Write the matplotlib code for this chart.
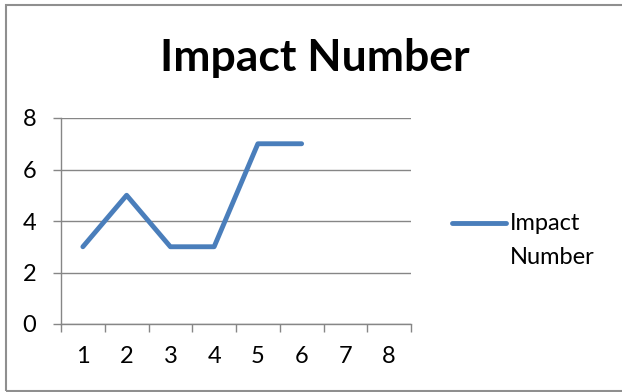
import matplotlib
matplotlib.use("Agg")
import matplotlib.pyplot as plt
from matplotlib.patches import Rectangle
from matplotlib.lines import Line2D

plt.rcParams['font.family'] = ['Lato', 'DejaVu Sans']

categories = [1, 2, 3, 4, 5, 6, 7, 8]
impact_values = [3, 5, 3, 3, 7, 7]
y_ticks = [0, 2, 4, 6, 8]
series_name = "Impact Number"

line_color = "#4A7EBB"
grid_color = "#868686"
label_size = 17
line_width = 3.5

fig = plt.figure(figsize=(6.22, 3.92), dpi=100)
fig.patch.set_facecolor("white")

# outer chart border (right edge runs off the canvas)
fig.add_artist(Rectangle((6/622, 1.5/392), 630/622, 385.5/392, transform=fig.transFigure,
                         fill=False, edgecolor="#8F8F8F", linewidth=1.5))

ax = fig.add_axes([61/622, 1 - 324/392, 350/622, 206/392])

n = len(categories)
xs = [i + 0.5 for i in range(len(impact_values))]
ax.plot(xs, impact_values, color=line_color, linewidth=line_width, solid_capstyle="round",
        solid_joinstyle="round")

ax.set_xlim(0, n)
ax.set_ylim(0, 8)

ax.set_yticks(y_ticks)
ax.set_yticklabels([str(v) for v in y_ticks])
ax.yaxis.grid(True, color=grid_color, linewidth=1.0)
ax.set_axisbelow(True)

ax.set_xticks(range(n + 1))
ax.set_xticklabels([])
ax.set_xticks([i + 0.5 for i in range(n)], minor=True)
ax.set_xticklabels([str(c) for c in categories], minor=True)
ax.tick_params(axis="x", which="major", length=5.5, color=grid_color, width=1.0, direction="out")
ax.tick_params(axis="x", which="minor", length=0, pad=16, labelsize=label_size)
ax.tick_params(axis="y", length=5.8, color=grid_color, width=1.0, pad=12, labelsize=label_size)

for s in ["top", "right"]:
    ax.spines[s].set_visible(False)
for s in ["left", "bottom"]:
    ax.spines[s].set_color(grid_color)
    ax.spines[s].set_linewidth(1.0)

fig.text(315/622, 1 - 58/392, series_name, ha="center", va="center",
         fontsize=32, fontweight="bold")

# legend entry
fig.add_artist(Line2D([452/622, 506/622], [1 - 223/392, 1 - 223/392], transform=fig.transFigure,
                      color=line_color, linewidth=line_width, solid_capstyle="round"))
fig.text(510/622, 1 - 223/392, "Impact", ha="left", va="center", fontsize=label_size)
fig.text(510/622, 1 - 257/392, "Number", ha="left", va="center", fontsize=label_size)

fig.savefig("out.png", dpi=100, facecolor="white")
